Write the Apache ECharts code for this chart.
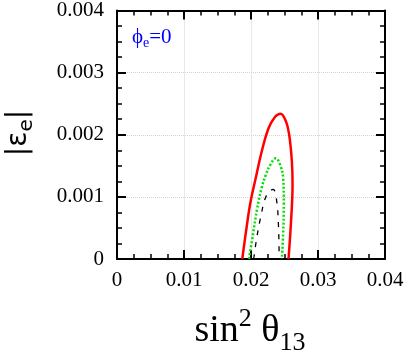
<!DOCTYPE html>
<html>
<head>
<meta charset="utf-8">
<script src="https://cdn.jsdelivr.net/npm/echarts@6/dist/echarts.min.js"></script>
<style>
  html, body { margin: 0; padding: 0; background: #fff; }
  #chart { width: 407px; height: 358px; }
</style>
</head>
<body>
<div id="chart"></div>
<script>
  // contour curves, sin^2 theta13 vs |eps_e|
  const redX = [0.0187, 0.0192, 0.0199, 0.0207, 0.0216, 0.0226, 0.0236, 0.0244, 0.0252, 0.0257, 0.0261, 0.0262, 0.0260, 0.0256];
  const redY = [0, 0.0004, 0.0009, 0.0013, 0.00173, 0.0021, 0.00229, 0.00234, 0.00222, 0.002, 0.00157, 0.0012, 0.00065, 0];
  const greenX = [0.0197, 0.0203, 0.0209, 0.0216, 0.0222, 0.0229, 0.0237, 0.0244, 0.0248, 0.0249, 0.0248, 0.0246];
  const greenY = [0, 0.0004, 0.0008, 0.00115, 0.00135, 0.00152, 0.00162, 0.0015, 0.0013, 0.0009, 0.0004, 0];
  const blackX = [0.0204, 0.0208, 0.0214, 0.0223, 0.0233, 0.0238, 0.0241, 0.0242];
  const blackY = [0, 0.0003, 0.00065, 0.00102, 0.00112, 0.00096, 0.00054, 0];
  const xTicks = [0, 0.01, 0.02, 0.03, 0.04];
  const yTicks = [0, 0.001, 0.002, 0.003, 0.004];

  const pairs = (xs, ys) => xs.map((x, i) => [x, ys[i]]);

  const chart = echarts.init(document.getElementById('chart'));

  const serif = 'Liberation Serif';
  const baseX = {
    type: 'value',
    min: xTicks[0],
    max: xTicks[xTicks.length - 1],
    interval: 0.01,
    axisLine: { show: true, onZero: false, lineStyle: { color: '#000', width: 2 } },
    axisTick: { show: true, inside: true, length: 9, lineStyle: { color: '#000', width: 2 } },
    minorTick: { show: true, splitNumber: 4, length: 5, lineStyle: { color: '#000', width: 1.5 } }
  };
  const baseY = {
    type: 'value',
    min: yTicks[0],
    max: yTicks[yTicks.length - 1],
    interval: 0.001,
    axisLine: { show: true, onZero: false, lineStyle: { color: '#000', width: 2 } },
    axisTick: { show: true, inside: true, length: 9, lineStyle: { color: '#000', width: 2 } },
    minorTick: { show: true, splitNumber: 4, length: 5, lineStyle: { color: '#000', width: 1.5 } }
  };

  const option = {
    animation: false,
    backgroundColor: '#fff',
    grid: { left: 117, right: 22, top: 8, bottom: 99 },
    xAxis: [
      Object.assign({}, baseX, {
        position: 'bottom',
        axisLabel: { color: '#000', fontFamily: serif, fontSize: 21, margin: 11 },
        splitLine: { show: true, lineStyle: { color: '#d4d4d4', type: 'dotted', width: 1 } }
      }),
      Object.assign({}, baseX, {
        position: 'top',
        axisLabel: { show: false },
        splitLine: { show: false }
      })
    ],
    yAxis: [
      Object.assign({}, baseY, {
        position: 'left',
        axisLabel: { color: '#000', fontFamily: serif, fontSize: 21, margin: 13 },
        splitLine: { show: true, lineStyle: { color: '#d4d4d4', type: 'dotted', width: 1 } }
      }),
      Object.assign({}, baseY, {
        position: 'right',
        axisLabel: { show: false },
        splitLine: { show: false }
      })
    ],
    graphic: [
      {
        type: 'text',
        x: 250,
        y: 331,
        style: {
          text: '{m|sin}{sup|2}{m| θ}{sub|13}',
          align: 'center',
          verticalAlign: 'middle',
          fill: '#000',
          rich: {
            m: { fontFamily: serif, fontSize: 38, lineHeight: 50, fill: '#000' },
            sup: { fontFamily: serif, fontSize: 26, lineHeight: 26, verticalAlign: 'top', fill: '#000' },
            sub: { fontFamily: serif, fontSize: 26, lineHeight: 26, verticalAlign: 'bottom', fill: '#000' }
          }
        }
      },
      {
        type: 'text',
        x: 19,
        y: 133,
        rotation: Math.PI / 2,
        style: {
          text: '{m|\u007cε}{sub|e}{m|\u007c}',
          align: 'center',
          verticalAlign: 'middle',
          fill: '#000',
          rich: {
            m: { fontFamily: 'DejaVu Sans', fontSize: 28, lineHeight: 36, fill: '#000' },
            sub: { fontFamily: 'DejaVu Sans', fontSize: 20, lineHeight: 20, verticalAlign: 'bottom', fill: '#000' }
          }
        }
      },
      {
        type: 'text',
        x: 132,
        y: 37,
        style: {
          text: '{m|ϕ}{sub|e}{m|=0}',
          align: 'left',
          verticalAlign: 'middle',
          fill: '#0000ff',
          rich: {
            m: { fontFamily: serif, fontSize: 21, lineHeight: 26, fill: '#0000ff' },
            sub: { fontFamily: serif, fontSize: 14, lineHeight: 14, verticalAlign: 'bottom', fill: '#0000ff' }
          }
        }
      }
    ],
    series: [
      {
        type: 'line',
        data: pairs(redX, redY),
        smooth: 0.4,
        showSymbol: false,
        lineStyle: { color: '#ff0000', width: 2.5 }
      },
      {
        type: 'line',
        data: pairs(greenX, greenY),
        smooth: 0.4,
        showSymbol: false,
        lineStyle: { color: '#00e000', width: 2.5, type: [2, 2] }
      },
      {
        type: 'line',
        data: pairs(blackX, blackY),
        smooth: 0.4,
        showSymbol: false,
        lineStyle: { color: '#000', width: 1.3, type: [5, 7] }
      }
    ]
  };

  chart.setOption(option);
</script>
</body>
</html>
